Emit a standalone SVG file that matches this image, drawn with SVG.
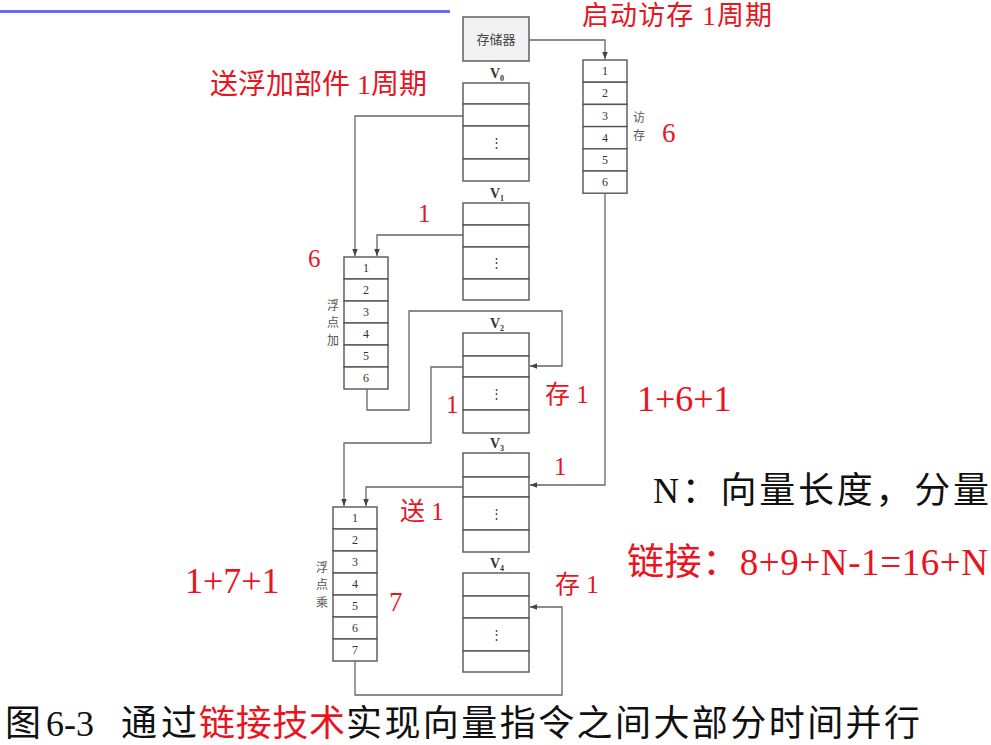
<svg xmlns="http://www.w3.org/2000/svg" width="991" height="745" viewBox="0 0 991 745">
<defs>
<marker id="arr" markerWidth="8" markerHeight="8" refX="7" refY="4" orient="auto" markerUnits="userSpaceOnUse">
<path d="M0,1.2 L7,4 L0,6.8 Z" fill="#444"/>
</marker>
<style>
.cell{fill:#fff;stroke:#555;stroke-width:1.4}
.num{font-family:"Liberation Serif","Noto Sans CJK SC",serif;font-size:12px;fill:#333;text-anchor:middle}
.vl{font-family:"Liberation Serif",serif;font-size:14px;font-weight:bold;fill:#333;text-anchor:middle}
.vs{font-size:8px}
.gray{font-family:"Noto Sans CJK SC",sans-serif;font-size:12px;fill:#555;text-anchor:middle}
.dots{font-family:"Liberation Serif",serif;font-size:13px;fill:#444;text-anchor:middle}
.conn{fill:none;stroke:#666;stroke-width:1.3}
.red{font-family:"Liberation Serif","Noto Sans CJK SC",serif;fill:#e8141e}
.blk{font-family:"Liberation Serif","Noto Sans CJK SC",serif;fill:#111}
</style>
</defs>
<rect x="0" y="10" width="450" height="3" fill="#6b6bef"/>

<g id="memory">
<rect x="463" y="17" width="66" height="44" fill="#f2f2f2" stroke="#555" stroke-width="1.4"/>
<text x="496" y="44" class="gray" style="font-size:13px;fill:#444">存储器</text>
</g>

<g id="access-pipe">
<rect class="cell" x="583" y="60" width="44" height="22.2"/>
<rect class="cell" x="583" y="82.2" width="44" height="22.2"/>
<rect class="cell" x="583" y="104.4" width="44" height="22.2"/>
<rect class="cell" x="583" y="126.6" width="44" height="22.2"/>
<rect class="cell" x="583" y="148.8" width="44" height="22.2"/>
<rect class="cell" x="583" y="171" width="44" height="22.2"/>
<text class="num" x="605" y="75">1</text>
<text class="num" x="605" y="97">2</text>
<text class="num" x="605" y="120">3</text>
<text class="num" x="605" y="142">4</text>
<text class="num" x="605" y="164">5</text>
<text class="num" x="605" y="186">6</text>
<text class="gray" x="639" y="122">访</text>
<text class="gray" x="639" y="140">存</text>
</g>

<g id="V0">
<text class="vl" x="497" y="78">V<tspan class="vs" dy="3">0</tspan></text>
<rect class="cell" x="463" y="83" width="66" height="21"/>
<rect class="cell" x="463" y="104" width="66" height="22"/>
<rect class="cell" x="463" y="126" width="66" height="33"/>
<rect class="cell" x="463" y="159" width="66" height="22"/>
<text class="dots" x="496" y="147">⋮</text>
</g>

<g id="V1">
<text class="vl" x="497" y="198">V<tspan class="vs" dy="3">1</tspan></text>
<rect class="cell" x="463" y="203" width="66" height="22"/>
<rect class="cell" x="463" y="225" width="66" height="22"/>
<rect class="cell" x="463" y="247" width="66" height="32"/>
<rect class="cell" x="463" y="279" width="66" height="21"/>
<text class="dots" x="496" y="267">⋮</text>
</g>

<g id="V2">
<text class="vl" x="497" y="328">V<tspan class="vs" dy="3">2</tspan></text>
<rect class="cell" x="463" y="333" width="66" height="23"/>
<rect class="cell" x="463" y="356" width="66" height="21"/>
<rect class="cell" x="463" y="377" width="66" height="33"/>
<rect class="cell" x="463" y="410" width="66" height="23"/>
<text class="dots" x="496" y="398">⋮</text>
</g>

<g id="V3">
<text class="vl" x="497" y="448">V<tspan class="vs" dy="3">3</tspan></text>
<rect class="cell" x="463" y="453" width="66" height="24"/>
<rect class="cell" x="463" y="477" width="66" height="20"/>
<rect class="cell" x="463" y="497" width="66" height="33"/>
<rect class="cell" x="463" y="530" width="66" height="22"/>
<text class="dots" x="496" y="518">⋮</text>
</g>

<g id="V4">
<text class="vl" x="497" y="568">V<tspan class="vs" dy="3">4</tspan></text>
<rect class="cell" x="463" y="573" width="66" height="23"/>
<rect class="cell" x="463" y="596" width="66" height="22"/>
<rect class="cell" x="463" y="618" width="66" height="33"/>
<rect class="cell" x="463" y="651" width="66" height="21"/>
<text class="dots" x="496" y="639">⋮</text>
</g>

<g id="add-pipe">
<rect class="cell" x="344" y="257" width="44" height="22"/>
<rect class="cell" x="344" y="279" width="44" height="22"/>
<rect class="cell" x="344" y="301" width="44" height="22"/>
<rect class="cell" x="344" y="323" width="44" height="22"/>
<rect class="cell" x="344" y="345" width="44" height="22"/>
<rect class="cell" x="344" y="367" width="44" height="22"/>
<text class="num" x="366" y="272">1</text>
<text class="num" x="366" y="294">2</text>
<text class="num" x="366" y="316">3</text>
<text class="num" x="366" y="338">4</text>
<text class="num" x="366" y="360">5</text>
<text class="num" x="366" y="382">6</text>
<text class="gray" x="333" y="310">浮</text>
<text class="gray" x="333" y="327">点</text>
<text class="gray" x="333" y="345">加</text>
</g>

<g id="mul-pipe">
<rect class="cell" x="333" y="507" width="44" height="22"/>
<rect class="cell" x="333" y="529" width="44" height="22"/>
<rect class="cell" x="333" y="551" width="44" height="22"/>
<rect class="cell" x="333" y="573" width="44" height="22"/>
<rect class="cell" x="333" y="595" width="44" height="22"/>
<rect class="cell" x="333" y="617" width="44" height="22"/>
<rect class="cell" x="333" y="639" width="44" height="22"/>
<text class="num" x="355" y="522">1</text>
<text class="num" x="355" y="544">2</text>
<text class="num" x="355" y="566">3</text>
<text class="num" x="355" y="588">4</text>
<text class="num" x="355" y="610">5</text>
<text class="num" x="355" y="632">6</text>
<text class="num" x="355" y="654">7</text>
<text class="gray" x="322" y="572">浮</text>
<text class="gray" x="322" y="589">点</text>
<text class="gray" x="322" y="607">乘</text>
</g>

<g id="connectors">
<path class="conn" d="M529,40 H605 V59" marker-end="url(#arr)"/>
<path class="conn" d="M463,116 H355 V256" marker-end="url(#arr)"/>
<path class="conn" d="M463,235 H377 V256" marker-end="url(#arr)"/>
<path class="conn" d="M367,389 V410 H409 V311 H562 V366 H530" marker-end="url(#arr)"/>
<path class="conn" d="M463,367 H431 V443 H344 V506" marker-end="url(#arr)"/>
<path class="conn" d="M463,487 H366 V506" marker-end="url(#arr)"/>
<path class="conn" d="M605,193 V485 H530" marker-end="url(#arr)"/>
<path class="conn" d="M355,661 V695 H562 V607 H530" marker-end="url(#arr)"/>
</g>

<g id="annotations">
<text class="red" x="582" y="25" font-size="27" textLength="190" lengthAdjust="spacing">启动访存 1周期</text>
<text class="red" x="210" y="94" font-size="28">送浮加部件 1周期</text>
<text class="red" x="662" y="142" font-size="27">6</text>
<text class="red" x="418" y="222" font-size="25">1</text>
<text class="red" x="308" y="267" font-size="25">6</text>
<text class="red" x="545" y="403" font-size="25">存 1</text>
<text class="red" x="446" y="413" font-size="25">1</text>
<text class="red" x="637" y="411" font-size="36">1+6+1</text>
<text class="red" x="554" y="475" font-size="25">1</text>
<text class="red" x="400" y="520" font-size="25">送 1</text>
<text class="red" x="555" y="593" font-size="25">存 1</text>
<text class="red" x="389" y="611" font-size="27">7</text>
<text class="red" x="185" y="593" font-size="36">1+7+1</text>
<text class="blk" x="653" y="503" font-size="36" textLength="336" lengthAdjust="spacing">N：向量长度，分量</text>
<text class="red" x="627" y="575" font-size="37" textLength="361" lengthAdjust="spacing">链接：8+9+N-1=16+N</text>
</g>

<g id="caption">
<text class="blk" x="5" y="736" font-size="36">图</text>
<text class="blk" x="46" y="736" font-size="36">6-3</text>
<text class="blk" x="121" y="736" font-size="36" textLength="76" lengthAdjust="spacing">通过</text>
<text class="red" x="199" y="736" font-size="36" textLength="146" lengthAdjust="spacing">链接技术</text>
<text class="blk" x="346" y="736" font-size="36" textLength="574" lengthAdjust="spacing">实现向量指令之间大部分时间并行</text>
</g>
</svg>
